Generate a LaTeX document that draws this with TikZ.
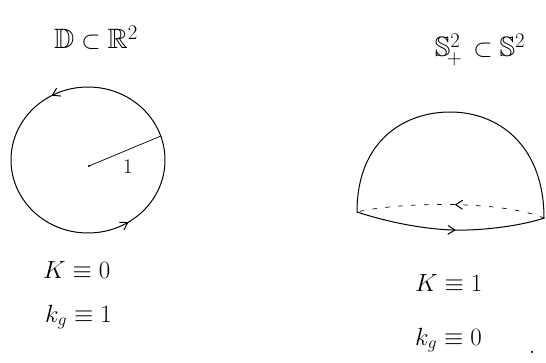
\documentclass[tikz,border=0pt]{standalone}
\usepackage{amssymb}
\usetikzlibrary{arrows.meta,decorations.markings}
\begin{document}
\begin{tikzpicture}[x=1pt,y=1pt,
  pen/.style={line width=1pt, line cap=round, line join=round},
  lbl/.style={font=\fontsize{26}{30}\selectfont, inner sep=0pt},
  ttl/.style={font=\fontsize{28}{32}\selectfont, inner sep=0pt},
  tip/.style={decoration={markings, mark=at position #1 with {\arrow{Straight Barb[length=7pt,width=9pt]}}}, postaction=decorate}
]
\useasboundingbox (0,0) rectangle (546,362);
% left disk
\coordinate (c) at (88,202);
\draw[pen, tip=0.33, decoration={markings, mark=at position 0.84 with {\arrow{Straight Barb[length=7pt,width=9pt]}}}] (c) ellipse [x radius=77, y radius=73];
\coordinate (ctr) at (89,196);
\coordinate (rim) at (161,226);
\fill (ctr) circle (1.2);
\draw[pen, line width=0.7pt] (ctr) -- (rim);
\node[lbl, font=\fontsize{20}{24}\selectfont] (one) at (128,195) {$1$};
\node[ttl] (t1) at (96,324) {$\mathbb{D}\subset\mathbb{R}^2$};
\node[lbl, anchor=west] (k1) at (43,92) {$K\equiv 0$};
\node[lbl, anchor=west] (kg1) at (45,45) {$k_g\equiv 1$};
% right hemisphere
\coordinate (bl) at (357,150);
\coordinate (br) at (544,144);
\coordinate (top) at (450,250);
\coordinate (fb) at (467,132);
\draw[pen] (bl) .. controls (357,222) and (405,250) .. (top) .. controls (500,250) and (544,215) .. (br);
\draw[pen, tip=0.53] (bl) .. controls (400,136) and (440,131) .. (fb) .. controls (500,133) and (530,139) .. (br);
\draw[pen, dash pattern=on 4pt off 9pt, line width=0.7pt] (br) .. controls (500,162) and (400,160) .. (bl);
\draw[pen, tip=0.48] (br) .. controls (500,162) and (400,160) .. (bl) [draw=none];
\node[ttl] (t2) at (480,312) {$\mathbb{S}^{2}_{\!+}\,\subset\mathbb{S}^2$};
\node[lbl, anchor=west] (k2) at (415,79) {$K\equiv 1$};
\node[lbl, anchor=west] (kg2) at (415,22) {$k_g\equiv 0$};
\node[lbl] (dot) at (532,10) {.};
\end{tikzpicture}
\end{document}
